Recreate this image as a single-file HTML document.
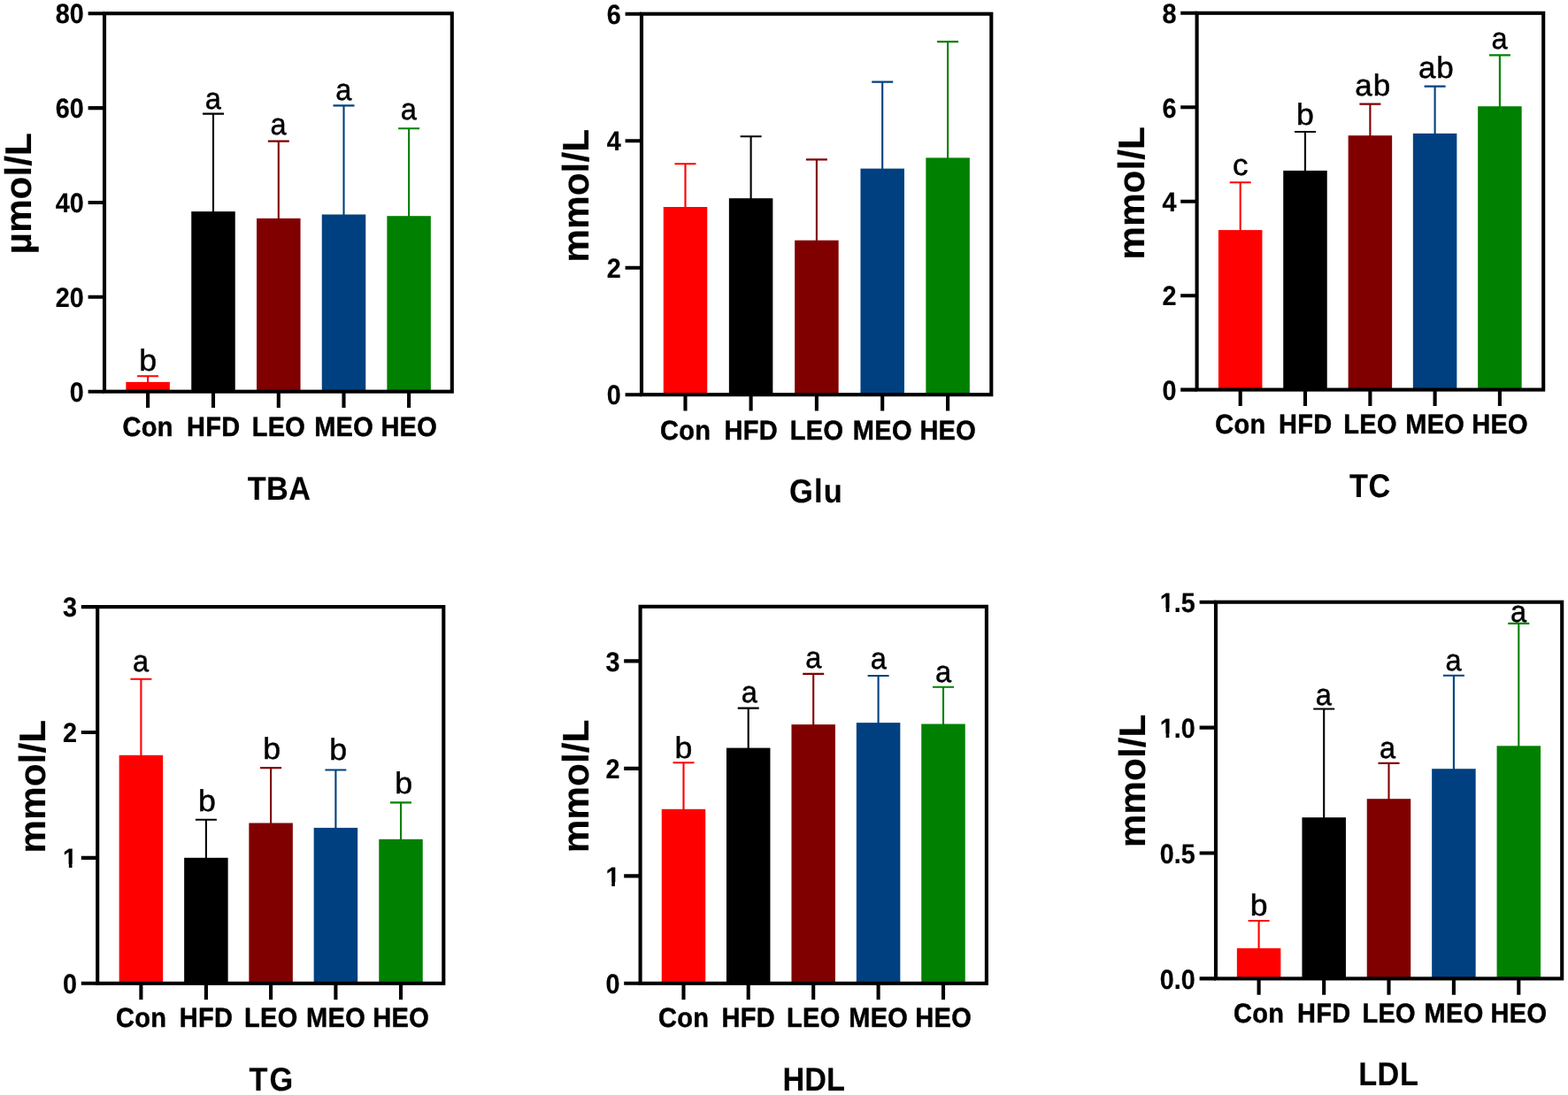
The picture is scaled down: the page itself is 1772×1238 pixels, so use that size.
<!DOCTYPE html>
<html lang="en">
<head>
<meta charset="utf-8">
<title>Serum biochemical indices: TBA, Glu, TC, TG, HDL, LDL</title>
<style>
html,body{margin:0;padding:0;background:#fff;}
body{width:1772px;height:1238px;overflow:hidden;}
svg{display:block;}
text{font-family:"Liberation Sans",sans-serif;text-rendering:geometricPrecision;fill:#000;stroke:#000;stroke-width:0.1px;stroke-linejoin:round;}
.fr{fill:none;stroke:#000;stroke-width:4.1;}
.tk{fill:none;stroke:#000;stroke-width:4.1;}
.mk{fill:#fff;}
.e{fill:none;stroke-width:2.1;}
.yt{font-weight:bold;font-size:28.8px;text-anchor:end;stroke-width:.2px;}
.xt{font-weight:bold;font-size:29.0px;text-anchor:middle;letter-spacing:0.3px;stroke-width:0.45px;}
.lt{font-size:35.0px;text-anchor:middle;stroke-width:0.5px;}
.ti{font-weight:bold;font-size:34.3px;text-anchor:middle;letter-spacing:0.5px;}
.yl{font-weight:bold;font-size:42.4px;text-anchor:middle;stroke-width:0.15px;}
</style>
</head>
<body>
<svg width="1772" height="1238" viewBox="0 0 1772 1238" role="img" aria-label="Bar charts of serum TBA, Glu, TC, TG, HDL and LDL for Con, HFD, LEO, MEO and HEO groups">
<rect width="1772" height="1238" fill="#fff"/>

<g class="panel">
<rect x="142.35" y="431.9" width="49.5" height="10.8" fill="#fe0000"/>
<rect x="216.25" y="239.1" width="49.5" height="203.6" fill="#000000"/>
<rect x="290.05" y="246.9" width="49.5" height="195.8" fill="#800000"/>
<rect x="363.75" y="242.5" width="49.5" height="200.2" fill="#004080"/>
<rect x="437.35" y="244.2" width="49.5" height="198.5" fill="#008000"/>
<path class="e" stroke="#fe0000" d="M167.1 432.9V425.3M155.1 425.3H179.1"/>
<path class="e" stroke="#000000" d="M241 240.1V128.6M229 128.6H253"/>
<path class="e" stroke="#800000" d="M314.8 247.9V159.6M302.8 159.6H326.8"/>
<path class="e" stroke="#004080" d="M388.5 243.5V119.4M376.5 119.4H400.5"/>
<path class="e" stroke="#008000" d="M462.1 245.2V145.2M450.1 145.2H474.1"/>
<rect class="fr" x="118" y="15.2" width="392.8" height="427.5"/>
<path class="tk" d="M99.6 15.2H118M99.6 122.1H118M99.6 229H118M99.6 335.8H118M99.6 442.7H118M167.1 442.7V461.1M241 442.7V461.1M314.8 442.7V461.1M388.5 442.7V461.1M462.1 442.7V461.1"/>
<text class="yt" transform="translate(94.8 26.4) scale(1 1.077)">80</text>
<text class="yt" transform="translate(94.8 133.3) scale(1 1.077)">60</text>
<text class="yt" transform="translate(94.8 240.2) scale(1 1.077)">40</text>
<text class="yt" transform="translate(94.8 347) scale(1 1.077)">20</text>
<text class="yt" transform="translate(94.8 453.9) scale(1 1.077)">0</text>
<text class="xt" transform="translate(167.25 492.9) scale(1 1.06)">Con</text>
<text class="xt" transform="translate(241.15 492.9) scale(1 1.06)">HFD</text>
<text class="xt" transform="translate(314.95 492.9) scale(1 1.06)">LEO</text>
<text class="xt" transform="translate(388.65 492.9) scale(1 1.06)">MEO</text>
<text class="xt" transform="translate(462.25 492.9) scale(1 1.06)">HEO</text>
<text class="lt" transform="translate(167.1 418.5) scale(1.02 0.973)">b</text>
<text class="lt" transform="translate(240.7 122.6) scale(0.93 0.973)">a</text>
<text class="lt" transform="translate(314.5 151.8) scale(0.93 0.973)">a</text>
<text class="lt" transform="translate(388.2 113) scale(0.93 0.973)">a</text>
<text class="lt" transform="translate(461.8 134.8) scale(0.93 0.973)">a</text>
<text class="ti" style="font-size:34.3px;letter-spacing:0.5px" transform="translate(315.65 565.3) scale(1 1.085)">TBA</text>
<text class="yl" transform="translate(34.5 218.8) rotate(-90) scale(1 0.985)">µmol/L</text>
</g>
<g class="panel">
<rect x="749.75" y="234" width="49.5" height="212.2" fill="#fe0000"/>
<rect x="823.85" y="224.2" width="49.5" height="222" fill="#000000"/>
<rect x="898.15" y="271.7" width="49.5" height="174.5" fill="#800000"/>
<rect x="972.45" y="190.6" width="49.5" height="255.6" fill="#004080"/>
<rect x="1046.35" y="178.4" width="49.5" height="267.8" fill="#008000"/>
<path class="e" stroke="#fe0000" d="M774.5 235V185.2M762.5 185.2H786.5"/>
<path class="e" stroke="#000000" d="M848.6 225.2V154.3M836.6 154.3H860.6"/>
<path class="e" stroke="#800000" d="M922.9 272.7V180.4M910.9 180.4H934.9"/>
<path class="e" stroke="#004080" d="M997.2 191.6V92.6M985.2 92.6H1009.2"/>
<path class="e" stroke="#008000" d="M1071.1 179.4V47.1M1059.1 47.1H1083.1"/>
<rect class="fr" x="725" y="15.7" width="395.3" height="430.5"/>
<path class="tk" d="M706.6 15.7H725M706.6 159.2H725M706.6 302.7H725M706.6 446.2H725M774.5 446.2V464.6M848.6 446.2V464.6M922.9 446.2V464.6M997.2 446.2V464.6M1071.1 446.2V464.6"/>
<text class="yt" transform="translate(701.8 26.9) scale(1 1.077)">6</text>
<text class="yt" transform="translate(701.8 170.4) scale(1 1.077)">4</text>
<text class="yt" transform="translate(701.8 313.9) scale(1 1.077)">2</text>
<text class="yt" transform="translate(701.8 457.4) scale(1 1.077)">0</text>
<text class="xt" transform="translate(774.65 496.8) scale(1 1.06)">Con</text>
<text class="xt" transform="translate(848.75 496.8) scale(1 1.06)">HFD</text>
<text class="xt" transform="translate(923.05 496.8) scale(1 1.06)">LEO</text>
<text class="xt" transform="translate(997.35 496.8) scale(1 1.06)">MEO</text>
<text class="xt" transform="translate(1071.25 496.8) scale(1 1.06)">HEO</text>
<text class="ti" style="font-size:34.5px;letter-spacing:1.2px" transform="translate(922.5 568.4) scale(1 1.085)">Glu</text>
<text class="yl" transform="translate(665.4 221.3) rotate(-90) scale(1 0.985)">mmol/L</text>
</g>
<g class="panel">
<rect x="1376.95" y="260.1" width="49.5" height="180.5" fill="#fe0000"/>
<rect x="1450.25" y="192.9" width="49.5" height="247.7" fill="#000000"/>
<rect x="1523.65" y="153.2" width="49.5" height="287.4" fill="#800000"/>
<rect x="1596.85" y="150.9" width="49.5" height="289.7" fill="#004080"/>
<rect x="1670.15" y="120.2" width="49.5" height="320.4" fill="#008000"/>
<path class="e" stroke="#fe0000" d="M1401.7 261.1V206.2M1389.7 206.2H1413.7"/>
<path class="e" stroke="#000000" d="M1475 193.9V149M1463 149H1487"/>
<path class="e" stroke="#800000" d="M1548.4 154.2V117.6M1536.4 117.6H1560.4"/>
<path class="e" stroke="#004080" d="M1621.6 151.9V97.6M1609.6 97.6H1633.6"/>
<path class="e" stroke="#008000" d="M1694.9 121.2V62.4M1682.9 62.4H1706.9"/>
<rect class="fr" x="1352.6" y="14.8" width="391.6" height="425.8"/>
<path class="tk" d="M1334.2 14.8H1352.6M1334.2 121.3H1352.6M1334.2 227.8H1352.6M1334.2 334.2H1352.6M1334.2 440.6H1352.6M1401.7 440.6V459M1475 440.6V459M1548.4 440.6V459M1621.6 440.6V459M1694.9 440.6V459"/>
<text class="yt" transform="translate(1329.4 26) scale(1 1.077)">8</text>
<text class="yt" transform="translate(1329.4 132.5) scale(1 1.077)">6</text>
<text class="yt" transform="translate(1329.4 239) scale(1 1.077)">4</text>
<text class="yt" transform="translate(1329.4 345.4) scale(1 1.077)">2</text>
<text class="yt" transform="translate(1329.4 451.8) scale(1 1.077)">0</text>
<text class="xt" transform="translate(1401.85 489.9) scale(1 1.06)">Con</text>
<text class="xt" transform="translate(1475.15 489.9) scale(1 1.06)">HFD</text>
<text class="xt" transform="translate(1548.55 489.9) scale(1 1.06)">LEO</text>
<text class="xt" transform="translate(1621.75 489.9) scale(1 1.06)">MEO</text>
<text class="xt" transform="translate(1695.05 489.9) scale(1 1.06)">HEO</text>
<text class="lt" transform="translate(1401.7 197.8) scale(1 0.973)">c</text>
<text class="lt" transform="translate(1475 140.8) scale(1.02 0.973)">b</text>
<text class="lt" style="letter-spacing:0.9px" transform="translate(1551.65 107.6) scale(1 0.973)">ab</text>
<text class="lt" style="letter-spacing:0.9px" transform="translate(1623.35 87.9) scale(1 0.973)">ab</text>
<text class="lt" transform="translate(1694.6 55.2) scale(0.93 0.973)">a</text>
<text class="ti" style="font-size:34.3px;letter-spacing:0.5px" transform="translate(1548.45 561.5) scale(1 1.085)">TC</text>
<text class="yl" transform="translate(1293.4 218.4) rotate(-90) scale(1 0.985)">mmol/L</text>
</g>
<g class="panel">
<rect x="134.65" y="853.8" width="49.5" height="258" fill="#fe0000"/>
<rect x="208.15" y="969.8" width="49.5" height="142" fill="#000000"/>
<rect x="281.35" y="930.5" width="49.5" height="181.3" fill="#800000"/>
<rect x="354.65" y="935.9" width="49.5" height="175.9" fill="#004080"/>
<rect x="428.25" y="948.8" width="49.5" height="163" fill="#008000"/>
<path class="e" stroke="#fe0000" d="M159.4 854.8V767.7M147.4 767.7H171.4"/>
<path class="e" stroke="#000000" d="M232.9 970.8V926.8M220.9 926.8H244.9"/>
<path class="e" stroke="#800000" d="M306.1 931.5V868.1M294.1 868.1H318.1"/>
<path class="e" stroke="#004080" d="M379.4 936.9V870.5M367.4 870.5H391.4"/>
<path class="e" stroke="#008000" d="M453 949.8V907.4M441 907.4H465"/>
<rect class="fr" x="110.2" y="686.1" width="391.1" height="425.7"/>
<path class="tk" d="M91.8 686.1H110.2M91.8 828H110.2M91.8 969.9H110.2M91.8 1111.8H110.2M159.4 1111.8V1130.2M232.9 1111.8V1130.2M306.1 1111.8V1130.2M379.4 1111.8V1130.2M453 1111.8V1130.2"/>
<text class="yt" transform="translate(87 697.3) scale(1 1.077)">3</text>
<text class="yt" transform="translate(87 839.2) scale(1 1.077)">2</text>
<text class="yt" transform="translate(87 981.1) scale(1 1.077)">1</text>
<rect class="mk" x="70.89" y="976.78" width="6.97" height="5.82"/>
<rect class="mk" x="81.51" y="976.78" width="6.14" height="5.82"/>
<text class="yt" transform="translate(87 1123) scale(1 1.077)">0</text>
<text class="xt" transform="translate(159.55 1161.1) scale(1 1.06)">Con</text>
<text class="xt" transform="translate(233.05 1161.1) scale(1 1.06)">HFD</text>
<text class="xt" transform="translate(306.25 1161.1) scale(1 1.06)">LEO</text>
<text class="xt" transform="translate(379.55 1161.1) scale(1 1.06)">MEO</text>
<text class="xt" transform="translate(453.15 1161.1) scale(1 1.06)">HEO</text>
<text class="lt" transform="translate(159.1 759) scale(0.93 0.973)">a</text>
<text class="lt" transform="translate(233.9 916.8) scale(1.02 0.973)">b</text>
<text class="lt" transform="translate(307.3 857.7) scale(1.02 0.973)">b</text>
<text class="lt" transform="translate(382.2 859.1) scale(1.02 0.973)">b</text>
<text class="lt" transform="translate(456.1 897.4) scale(1.02 0.973)">b</text>
<text class="ti" style="font-size:34.3px;letter-spacing:1.9px" transform="translate(307.25 1232.7) scale(1 1.085)">TG</text>
<text class="yl" transform="translate(50.7 889.3) rotate(-90) scale(1 0.985)">mmol/L</text>
</g>
<g class="panel">
<rect x="747.75" y="914.8" width="49.5" height="197" fill="#fe0000"/>
<rect x="820.95" y="845.6" width="49.5" height="266.2" fill="#000000"/>
<rect x="894.45" y="819.1" width="49.5" height="292.7" fill="#800000"/>
<rect x="967.85" y="817.1" width="49.5" height="294.7" fill="#004080"/>
<rect x="1041.25" y="818.5" width="49.5" height="293.3" fill="#008000"/>
<path class="e" stroke="#fe0000" d="M772.5 915.8V862.3M760.5 862.3H784.5"/>
<path class="e" stroke="#000000" d="M845.7 846.6V800.6M833.7 800.6H857.7"/>
<path class="e" stroke="#800000" d="M919.2 820.1V761.9M907.2 761.9H931.2"/>
<path class="e" stroke="#004080" d="M992.6 818.1V764M980.6 764H1004.6"/>
<path class="e" stroke="#008000" d="M1066 819.5V776.8M1054 776.8H1078"/>
<rect class="fr" x="723.6" y="685.8" width="391.3" height="426"/>
<path class="tk" d="M705.2 747.4H723.6M705.2 868.9H723.6M705.2 990.4H723.6M705.2 1111.8H723.6M772.5 1111.8V1130.2M845.7 1111.8V1130.2M919.2 1111.8V1130.2M992.6 1111.8V1130.2M1066 1111.8V1130.2"/>
<text class="yt" transform="translate(700.4 758.6) scale(1 1.077)">3</text>
<text class="yt" transform="translate(700.4 880.1) scale(1 1.077)">2</text>
<text class="yt" transform="translate(700.4 1001.6) scale(1 1.077)">1</text>
<rect class="mk" x="684.29" y="997.28" width="6.97" height="5.82"/>
<rect class="mk" x="694.91" y="997.28" width="6.14" height="5.82"/>
<text class="yt" transform="translate(700.4 1123) scale(1 1.077)">0</text>
<text class="xt" transform="translate(772.65 1161.1) scale(1 1.06)">Con</text>
<text class="xt" transform="translate(845.85 1161.1) scale(1 1.06)">HFD</text>
<text class="xt" transform="translate(919.35 1161.1) scale(1 1.06)">LEO</text>
<text class="xt" transform="translate(992.75 1161.1) scale(1 1.06)">MEO</text>
<text class="xt" transform="translate(1066.15 1161.1) scale(1 1.06)">HEO</text>
<text class="lt" transform="translate(772.5 856.7) scale(1.02 0.973)">b</text>
<text class="lt" transform="translate(846.9 793.8) scale(0.93 0.973)">a</text>
<text class="lt" transform="translate(919.4 754.6) scale(0.93 0.973)">a</text>
<text class="lt" transform="translate(992.8 756.2) scale(0.93 0.973)">a</text>
<text class="lt" transform="translate(1066 770.8) scale(0.93 0.973)">a</text>
<text class="ti" style="font-size:34.3px;letter-spacing:0px" transform="translate(919.7 1233) scale(1 1.085)">HDL</text>
<text class="yl" transform="translate(665 889) rotate(-90) scale(1 0.985)">mmol/L</text>
</g>
<g class="panel">
<rect x="1397.85" y="1072.1" width="49.5" height="34.3" fill="#fe0000"/>
<rect x="1471.45" y="924.2" width="49.5" height="182.2" fill="#000000"/>
<rect x="1544.75" y="903.2" width="49.5" height="203.2" fill="#800000"/>
<rect x="1618.15" y="869.2" width="49.5" height="237.2" fill="#004080"/>
<rect x="1691.55" y="843.3" width="49.5" height="263.1" fill="#008000"/>
<path class="e" stroke="#fe0000" d="M1422.6 1073.1V1041M1410.6 1041H1434.6"/>
<path class="e" stroke="#000000" d="M1496.2 925.2V801.5M1484.2 801.5H1508.2"/>
<path class="e" stroke="#800000" d="M1569.5 904.2V862.9M1557.5 862.9H1581.5"/>
<path class="e" stroke="#004080" d="M1642.9 870.2V763.7M1630.9 763.7H1654.9"/>
<path class="e" stroke="#008000" d="M1716.3 844.3V704.9M1704.3 704.9H1728.3"/>
<rect class="fr" x="1374" y="680.7" width="391.2" height="425.7"/>
<path class="tk" d="M1355.6 680.7H1374M1355.6 822.6H1374M1355.6 964.5H1374M1355.6 1106.4H1374M1422.6 1106.4V1124.8M1496.2 1106.4V1124.8M1569.5 1106.4V1124.8M1642.9 1106.4V1124.8M1716.3 1106.4V1124.8"/>
<text class="yt" transform="translate(1350.8 691.9) scale(1 1.077)">1.5</text>
<rect class="mk" x="1310.67" y="687.58" width="6.97" height="5.82"/>
<rect class="mk" x="1321.29" y="687.58" width="6.14" height="5.82"/>
<text class="yt" transform="translate(1350.8 833.8) scale(1 1.077)">1.0</text>
<rect class="mk" x="1310.67" y="829.48" width="6.97" height="5.82"/>
<rect class="mk" x="1321.29" y="829.48" width="6.14" height="5.82"/>
<text class="yt" transform="translate(1350.8 975.7) scale(1 1.077)">0.5</text>
<text class="yt" transform="translate(1350.8 1117.6) scale(1 1.077)">0.0</text>
<text class="xt" transform="translate(1422.75 1156.2) scale(1 1.06)">Con</text>
<text class="xt" transform="translate(1496.35 1156.2) scale(1 1.06)">HFD</text>
<text class="xt" transform="translate(1569.65 1156.2) scale(1 1.06)">LEO</text>
<text class="xt" transform="translate(1643.05 1156.2) scale(1 1.06)">MEO</text>
<text class="xt" transform="translate(1716.45 1156.2) scale(1 1.06)">HEO</text>
<text class="lt" transform="translate(1422.6 1034.9) scale(1.02 0.973)">b</text>
<text class="lt" transform="translate(1495.9 796.7) scale(0.93 0.973)">a</text>
<text class="lt" transform="translate(1568.1 857.4) scale(0.93 0.973)">a</text>
<text class="lt" transform="translate(1642.6 758) scale(0.93 0.973)">a</text>
<text class="lt" transform="translate(1716 703) scale(0.93 0.973)">a</text>
<text class="ti" style="font-size:34.3px;letter-spacing:0.5px" transform="translate(1569.25 1227.2) scale(1 1.085)">LDL</text>
<text class="yl" transform="translate(1294.4 883) rotate(-90) scale(1 0.985)">mmol/L</text>
</g>
</svg>
</body>
</html>
